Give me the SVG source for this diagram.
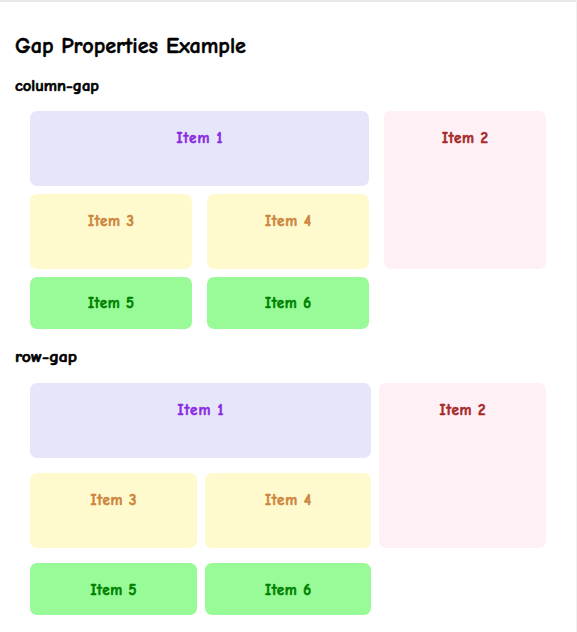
<svg xmlns="http://www.w3.org/2000/svg" width="577" height="632" viewBox="0 0 577 632">
<style>
text { font-family: 'Comic Sans MS', 'Comic Neue', 'Liberation Sans', sans-serif; font-weight: bold; stroke-width: 0.6; stroke-linejoin: round; }
.title { font-size: 23px; fill: #000; stroke: #000; stroke-width: 0.5; }
.sub { font-size: 15px; fill: #000; stroke: #000; }
.lbl { font-size: 15px; text-anchor: middle; }
.c1 { fill: #E6E6FA; } .t1 { fill: #8A2BE2; stroke: #8A2BE2; }
.c2 { fill: #FFF0F5; } .t2 { fill: #A52A2A; stroke: #A52A2A; }
.c3 { fill: #FFFACD; } .t3 { fill: #CD853F; stroke: #CD853F; }
.c5 { fill: #98FB98; } .t5 { fill: #008000; stroke: #008000; }
</style>
<rect x="0" y="0" width="577" height="632" fill="#ffffff"/>
<rect x="0" y="0" width="577" height="2" fill="#e9e9e9"/>
<rect x="576" y="0" width="1" height="632" fill="#f0f0f0"/>
<text class="title" x="15" y="53" textLength="231" lengthAdjust="spacingAndGlyphs">Gap Properties Example</text>
<text class="sub" x="15" y="91" textLength="84" lengthAdjust="spacingAndGlyphs">column-gap</text>
<text class="sub" x="15" y="362" textLength="62" lengthAdjust="spacingAndGlyphs">row-gap</text>
<g id="connectors"></g>
<g id="colgap-item1"><rect class="c1" x="30" y="111" width="339" height="75" rx="7"/><text class="lbl t1" x="199.5" y="143" textLength="46">Item 1</text></g>
<g id="colgap-item2"><rect class="c2" x="384" y="111" width="162" height="158" rx="7"/><text class="lbl t2" x="465" y="143" textLength="46">Item 2</text></g>
<g id="colgap-item3"><rect class="c3" x="30" y="194" width="162" height="75" rx="7"/><text class="lbl t3" x="111" y="225.5" textLength="46">Item 3</text></g>
<g id="colgap-item4"><rect class="c3" x="207" y="194" width="162" height="75" rx="7"/><text class="lbl t3" x="288" y="225.5" textLength="46">Item 4</text></g>
<g id="colgap-item5"><rect class="c5" x="30" y="277" width="162" height="52" rx="7"/><text class="lbl t5" x="111" y="307.5" textLength="46">Item 5</text></g>
<g id="colgap-item6"><rect class="c5" x="207" y="277" width="162" height="52" rx="7"/><text class="lbl t5" x="288" y="307.5" textLength="46">Item 6</text></g>
<g id="rowgap-item1"><rect class="c1" x="30" y="383" width="341" height="75" rx="7"/><text class="lbl t1" x="200.5" y="415" textLength="46">Item 1</text></g>
<g id="rowgap-item2"><rect class="c2" x="379" y="383" width="167" height="165" rx="7"/><text class="lbl t2" x="462.5" y="415" textLength="46">Item 2</text></g>
<g id="rowgap-item3"><rect class="c3" x="30" y="473" width="167" height="75" rx="7"/><text class="lbl t3" x="113.5" y="505" textLength="46">Item 3</text></g>
<g id="rowgap-item4"><rect class="c3" x="205" y="473" width="166" height="75" rx="7"/><text class="lbl t3" x="288" y="505" textLength="46">Item 4</text></g>
<g id="rowgap-item5"><rect class="c5" x="30" y="563" width="167" height="52" rx="7"/><text class="lbl t5" x="113.5" y="595" textLength="46">Item 5</text></g>
<g id="rowgap-item6"><rect class="c5" x="205" y="563" width="166" height="52" rx="7"/><text class="lbl t5" x="288" y="595" textLength="46">Item 6</text></g>
</svg>
